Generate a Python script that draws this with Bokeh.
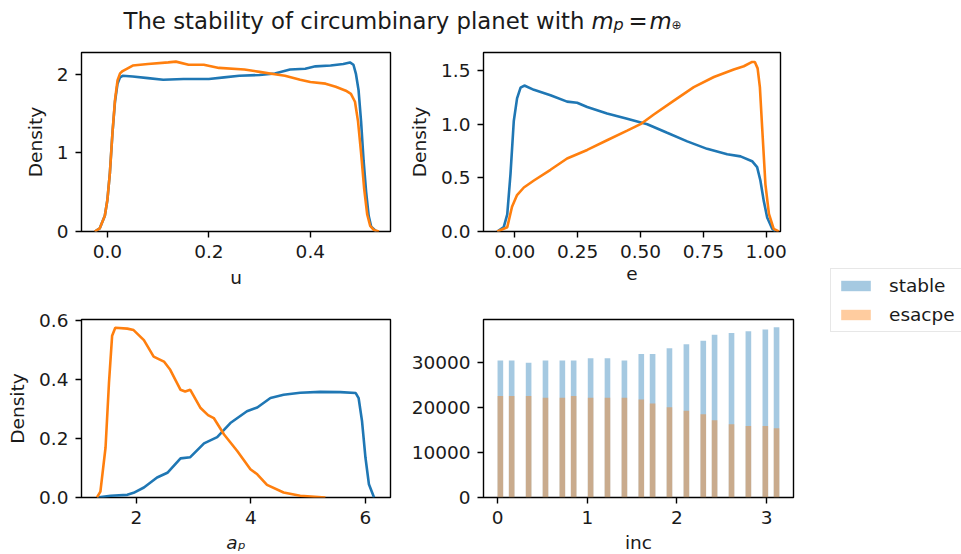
import numpy as np
from bokeh.plotting import figure
from bokeh.layouts import row, column
from bokeh.models import Range1d, FixedTicker, Label, Legend, LegendItem
from bokeh.embed import file_html
from bokeh.resources import INLINE

BLUE = "#1f77b4"
ORANGE = "#ff7f0e"
FONT = "DejaVu Sans"
TXT = "18.5px"
TXT_COLOR = "#1a1a1a"

# ---------------- data ----------------
# panel u : KDE density
u_stable_x = [-0.025, -0.015, -0.005, 0.0, 0.005, 0.01, 0.015, 0.02, 0.025, 0.03, 0.05, 0.08, 0.11,
              0.15, 0.2, 0.23, 0.26, 0.3, 0.33, 0.36, 0.39, 0.41, 0.44, 0.465, 0.478, 0.485, 0.49,
              0.495, 0.5, 0.505, 0.51, 0.515, 0.52, 0.53]
u_stable_y = [0.0, 0.04, 0.2, 0.4, 0.75, 1.25, 1.65, 1.88, 1.96, 1.98, 1.97, 1.95, 1.93,
              1.94, 1.94, 1.96, 1.98, 1.99, 2.01, 2.06, 2.07, 2.1, 2.11, 2.13, 2.15, 2.12, 2.0,
              1.8, 1.4, 0.9, 0.5, 0.2, 0.06, 0.0]
u_escape_x = [-0.025, -0.015, -0.005, 0.0, 0.005, 0.01, 0.015, 0.02, 0.025, 0.03, 0.05, 0.08, 0.12,
              0.135, 0.16, 0.19, 0.22, 0.27, 0.3, 0.33, 0.35, 0.38, 0.4, 0.43, 0.45, 0.47, 0.48,
              0.488, 0.494, 0.5, 0.506, 0.512, 0.518, 0.525, 0.535]
u_escape_y = [0.0, 0.04, 0.2, 0.4, 0.75, 1.25, 1.67, 1.92, 2.01, 2.04, 2.11, 2.13, 2.15,
              2.16, 2.12, 2.12, 2.08, 2.06, 2.03, 2.0, 1.98, 1.93, 1.9, 1.88, 1.84, 1.79, 1.75,
              1.65, 1.4, 1.0, 0.55, 0.22, 0.07, 0.02, 0.0]

# panel e : KDE density
e_stable_x = [-0.07, -0.044, -0.03, -0.017, -0.004, 0.009, 0.023, 0.038, 0.076, 0.142, 0.208, 0.248,
              0.288, 0.367, 0.447, 0.527, 0.606, 0.686, 0.765, 0.845, 0.898, 0.944, 0.964, 0.977,
              0.99, 1.004, 1.024, 1.037]
e_stable_y = [0.0, 0.04, 0.16, 0.54, 1.03, 1.24, 1.34, 1.36, 1.32, 1.27, 1.21, 1.2,
              1.16, 1.1, 1.05, 1.0, 0.92, 0.84, 0.77, 0.72, 0.7, 0.655, 0.6, 0.475,
              0.29, 0.13, 0.025, 0.0]
e_escape_x = [-0.07, -0.03, -0.011, 0.009, 0.036, 0.076, 0.142, 0.208, 0.288, 0.367, 0.447, 0.5,
              0.553, 0.633, 0.712, 0.792, 0.871, 0.911, 0.944, 0.955, 0.966, 0.975, 0.984, 0.997,
              1.011, 1.03, 1.05]
e_escape_y = [0.0, 0.04, 0.23, 0.34, 0.41, 0.475, 0.575, 0.68, 0.76, 0.85, 0.94, 1.0,
              1.09, 1.22, 1.345, 1.44, 1.51, 1.54, 1.58, 1.58, 1.52, 1.345, 0.97, 0.44,
              0.165, 0.025, 0.0]

# panel a_p : KDE density
a_stable_x = [1.31, 1.55, 1.84, 1.95, 2.13, 2.36, 2.54, 2.77, 2.94, 3.18, 3.41, 3.64, 3.93, 4.11,
              4.34, 4.57, 4.86, 5.21, 5.56, 5.83, 5.88, 5.94, 6.0, 6.06, 6.15]
a_stable_y = [0.0, 0.006, 0.009, 0.016, 0.034, 0.068, 0.084, 0.133, 0.137, 0.184, 0.205, 0.253,
              0.293, 0.306, 0.338, 0.349, 0.356, 0.359, 0.358, 0.355, 0.338, 0.259, 0.135, 0.045, 0.0]
a_escape_x = [1.31, 1.37, 1.46, 1.52, 1.575, 1.63, 1.84, 1.95, 2.13, 2.3, 2.48, 2.59, 2.77, 2.85,
              2.94, 3.12, 3.25, 3.35, 3.53, 3.76, 3.99, 4.11, 4.28, 4.57, 4.86, 5.3]
a_escape_y = [0.0, 0.02, 0.17, 0.39, 0.55, 0.577, 0.574, 0.569, 0.535, 0.479, 0.462, 0.434, 0.366,
              0.36, 0.366, 0.304, 0.28, 0.27, 0.214, 0.158, 0.096, 0.079, 0.043, 0.017, 0.006, 0.0]

# panel inc : histogram (bin centres, counts)
inc_bin_width = np.pi / 50
inc_centers = [0.031, 0.157, 0.346, 0.534, 0.722, 0.848, 1.037, 1.225, 1.414, 1.602, 1.728,
               1.916, 2.105, 2.293, 2.419, 2.608, 2.796, 2.985, 3.110]
inc_stable = [30500, 30500, 30000, 30500, 30500, 30500, 31000, 31000, 30500, 31900, 31900,
              33200, 34100, 34900, 36200, 36600, 37000, 37400, 37900]
inc_escape = [22600, 22600, 22600, 22200, 22200, 22600, 22200, 22200, 22200, 21800, 20900,
              20100, 19300, 18500, 17200, 16300, 15900, 15900, 15400]

# ticks
u_xticks, u_xlabels = [0, 0.2, 0.4], ["0.0", "0.2", "0.4"]
u_yticks, u_ylabels = [0, 1, 2], ["0", "1", "2"]
e_xticks, e_xlabels = [0, 0.25, 0.5, 0.75, 1.0], ["0.00", "0.25", "0.50", "0.75", "1.00"]
e_yticks, e_ylabels = [0, 0.5, 1.0, 1.5], ["0.0", "0.5", "1.0", "1.5"]
a_xticks, a_xlabels = [2, 4, 6], ["2", "4", "6"]
a_yticks, a_ylabels = [0, 0.2, 0.4, 0.6], ["0.0", "0.2", "0.4", "0.6"]
i_xticks, i_xlabels = [0, 1, 2, 3], ["0", "1", "2", "3"]
i_yticks, i_ylabels = [0, 10000, 20000, 30000], ["0", "10000", "20000", "30000"]


def make_fig(fw, fh, xr, yr, left, right, top, bottom):
    p = figure(frame_width=fw, frame_height=fh, x_range=Range1d(*xr), y_range=Range1d(*yr),
               min_border_left=left, min_border_right=right, min_border_top=top,
               min_border_bottom=bottom, output_backend="svg", toolbar_location=None)
    p.xgrid.visible = False
    p.ygrid.visible = False
    p.outline_line_color = "black"
    p.outline_line_width = 1.4
    p.border_fill_color = "white"
    p.background_fill_color = "white"
    return p


def style_axis(ax, ticks, labels, label, lab_standoff, tick_standoff=7, italic=False):
    ax.ticker = FixedTicker(ticks=ticks)
    ax.major_label_overrides = {t: l for t, l in zip(ticks, labels)}
    ax.axis_line_color = None
    ax.major_tick_in = 0
    ax.major_tick_out = 6
    ax.major_tick_line_color = "black"
    ax.major_tick_line_width = 1.4
    ax.minor_tick_line_color = None
    ax.major_label_text_font = FONT
    ax.major_label_text_font_size = TXT
    ax.major_label_text_color = TXT_COLOR
    ax.major_label_standoff = tick_standoff
    if label is not None:
        ax.axis_label = label
        ax.axis_label_text_font = FONT
        ax.axis_label_text_font_size = TXT
        ax.axis_label_text_color = TXT_COLOR
        ax.axis_label_text_font_style = "italic" if italic else "normal"
        ax.axis_label_standoff = lab_standoff


LW = 2.6

# top-left: u
f1 = make_fig(309, 179, (-0.051, 0.558), (0, 2.276), 81, 5, 14, 60)
f1.line(u_stable_x, u_stable_y, line_color=BLUE, line_width=LW)
f1.line(u_escape_x, u_escape_y, line_color=ORANGE, line_width=LW)
style_axis(f1.xaxis[0], u_xticks, u_xlabels, "u", 6)
style_axis(f1.yaxis[0], u_yticks, u_ylabels, "Density", 8)

# top-right: e
f2 = make_fig(297, 179, (-0.1245, 1.057), (0, 1.668), 88, 18, 14, 60)
f2.line(e_stable_x, e_stable_y, line_color=BLUE, line_width=LW)
f2.line(e_escape_x, e_escape_y, line_color=ORANGE, line_width=LW)
style_axis(f2.xaxis[0], e_xticks, e_xlabels, "e", 6)
style_axis(f2.yaxis[0], e_yticks, e_ylabels, "Density", 8)

# bottom-left: a_p
f3 = make_fig(309, 178, (1.04, 6.437), (0, 0.605), 81, 5, 28, 57)
f3.line(a_stable_x, a_stable_y, line_color=BLUE, line_width=LW)
f3.line(a_escape_x, a_escape_y, line_color=ORANGE, line_width=LW)
style_axis(f3.xaxis[0], a_xticks, a_xlabels, "a\u209a", 5, italic=True)
style_axis(f3.yaxis[0], a_yticks, a_ylabels, "Density", 8)

# bottom-right: inc
f4 = make_fig(310, 178, (-0.157, 3.299), (0, 39600), 88, 5, 28, 57)
f4.vbar(x=inc_centers, top=inc_stable, width=inc_bin_width, fill_color=BLUE, fill_alpha=0.4,
        line_color=None)
f4.vbar(x=inc_centers, top=inc_escape, width=inc_bin_width, fill_color=ORANGE, fill_alpha=0.4,
        line_color=None)
style_axis(f4.xaxis[0], i_xticks, i_xlabels, "inc", 5)
style_axis(f4.yaxis[0], i_yticks, i_ylabels, None, 0)

# title
tf = figure(width=795, height=38, x_range=Range1d(0, 795), y_range=Range1d(0, 38), min_border=0,
            x_axis_location=None, y_axis_location=None, output_backend="svg", toolbar_location=None)
tf.outline_line_color = None
tf.xgrid.visible = False
tf.ygrid.visible = False
TS = "22.8px"
title_parts = [
    ("The stability of circumbinary planet with", 123, 18, TS, "normal"),
    ("m", 591, 18, TS, "italic"),
    ("p", 613, 14, "16px", "italic"),
    ("=", 628, 18, TS, "normal"),
    ("m", 649, 18, TS, "italic"),
    ("\u2295", 671, 14, "12px", "normal"),
]
for txt, x, y, size, style in title_parts:
    tf.add_layout(Label(text=txt, x=x, y=y, x_units="screen", y_units="screen",
                        text_font=FONT, text_font_size=size, text_font_style=style,
                        text_color=TXT_COLOR, text_baseline="alphabetic"))

# legend panel
lf = figure(width=163, height=508, x_range=Range1d(0, 1), y_range=Range1d(0, 1), min_border=0,
            x_axis_location=None, y_axis_location=None, output_backend="svg", toolbar_location=None)
lf.outline_line_color = None
lf.xgrid.visible = False
lf.ygrid.visible = False
r_s = lf.vbar(x=[np.nan], top=[np.nan], width=1, fill_color=BLUE, fill_alpha=0.4, line_color=None)
r_e = lf.vbar(x=[np.nan], top=[np.nan], width=1, fill_color=ORANGE, fill_alpha=0.4, line_color=None)
legend = Legend(items=[LegendItem(label="stable", renderers=[r_s]),
                       LegendItem(label="esacpe", renderers=[r_e])],
                location=(32, 214), glyph_width=37, glyph_height=13, label_standoff=15,
                label_text_font=FONT, label_text_font_size=TXT, label_text_color=TXT_COLOR,
                label_height=21, spacing=8, padding=6, margin=0,
                border_line_color="#d0d0d0", border_line_width=1, background_fill_alpha=1)
lf.add_layout(legend)

layout = column(tf, row(column(f1, f3), column(f2, f4), lf))

with open("out.html", "w") as fh:
    fh.write(file_html(layout, INLINE))
